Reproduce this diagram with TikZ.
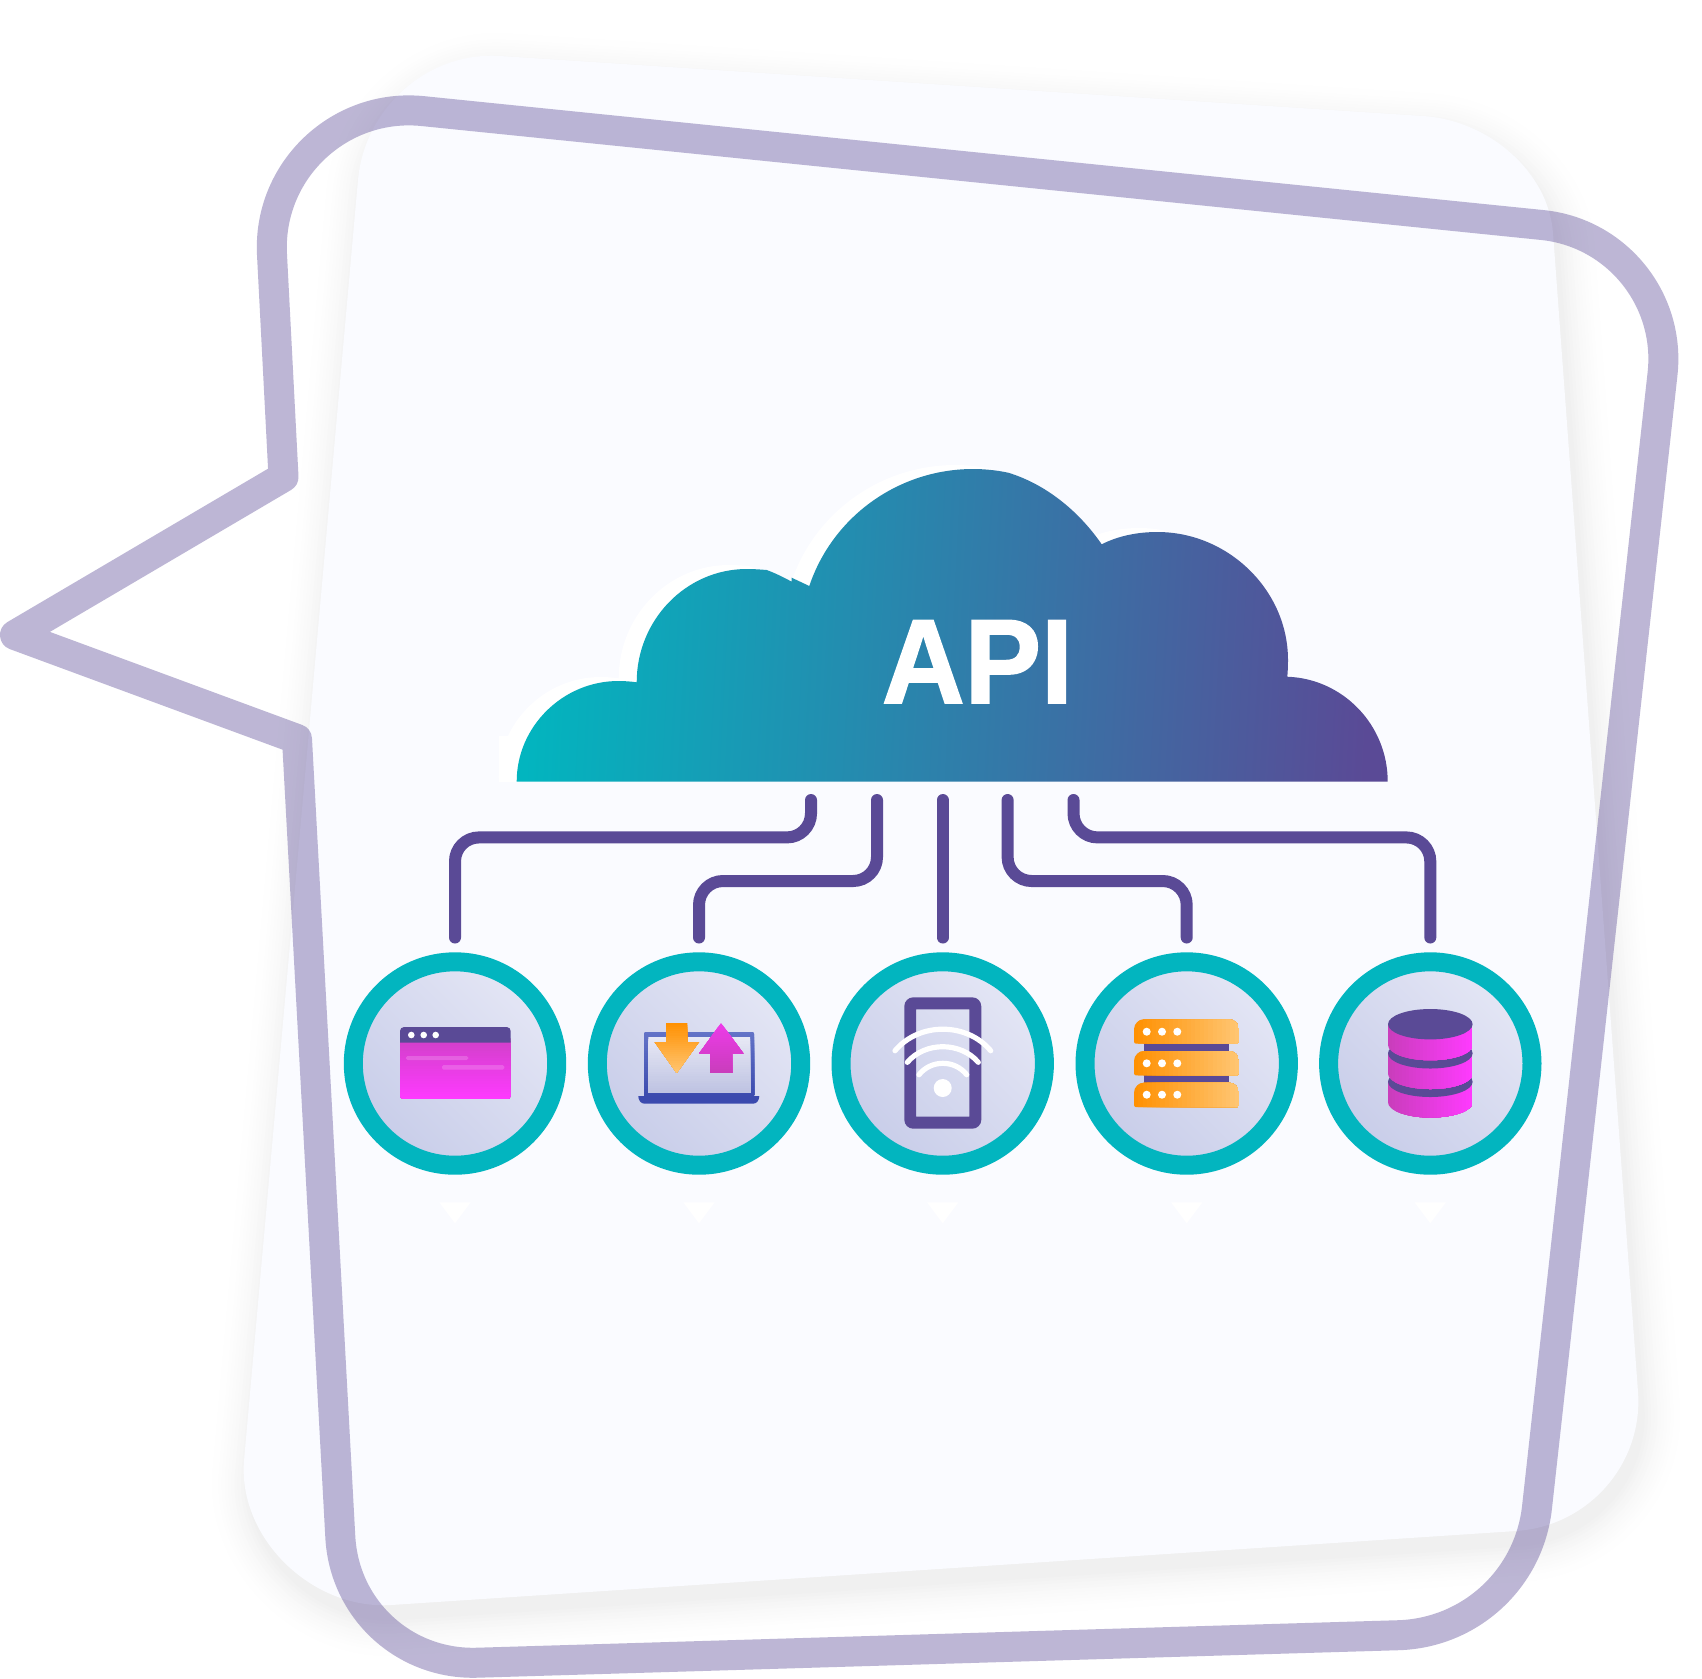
\documentclass[tikz,border=0pt]{standalone}
\usepackage{fontspec}
\usepackage{graphicx}
\setmainfont{Liberation Sans}
\usetikzlibrary{calc}
\definecolor{pur}{HTML}{5A4A96}
\definecolor{teal1}{HTML}{02B5BF}
\definecolor{cardbg}{HTML}{FAFBFF}
\definecolor{org}{HTML}{FF9000}
\definecolor{orgl}{HTML}{FFC673}
\definecolor{mag}{HTML}{C93DBB}
\definecolor{magw}{HTML}{D040C8}
\definecolor{magl}{HTML}{FF3AFF}
\definecolor{magt}{HTML}{EE3BEA}
\definecolor{lap}{HTML}{3B4AAE}
\definecolor{lapt}{HTML}{6474C8}
\definecolor{ringd}{HTML}{C8CDE9}
\definecolor{ringl}{HTML}{E4E6F5}
\definecolor{scrt}{HTML}{E8E9F5}
\definecolor{scrb}{HTML}{BEC3E2}
\newcommand{\cardpath}{(500,56) -- (1423,116) .. controls (1490,120.4) and (1548.6,173) .. (1553,233) -- (1638,1392) .. controls (1643.2,1463.8) and (1588.3,1526.3) .. (1516,1531) -- (391,1605) .. controls (312,1610) and (238,1538) .. (244,1461) -- (358,180) .. controls (364.6,107) and (428.5,51.3) .. (500,56) -- cycle}
\newcommand{\cloudpath}{(516.7,781.5) .. controls (516.7,726.5) and (563,681) .. (618.3,681) .. controls (625,681) and (631,681.5) .. (636.7,682.3) .. controls (636.7,620) and (686,569) .. (746.7,569) .. controls (753,569) and (760,569.4) .. (766.7,570) .. controls (775,573) and (784,577.5) .. (791.7,581.7) -- (791.7,577.7) -- (809.3,586) .. controls (832.8,516) and (899.1,469) .. (973,469) .. controls (985,469) and (997,470.3) .. (1008.3,472.7) .. controls (1045,484) and (1078,510) .. (1101.7,544.3) .. controls (1118,536) and (1137,532) .. (1157.5,532) .. controls (1228,532) and (1288,590) .. (1288,660) .. controls (1288,666) and (1287.8,671) .. (1287.3,676.7) .. controls (1343,678.7) and (1387.7,725) .. (1387.7,781.5) -- cycle}
% gradients painted as overlapping solid strips, clipped to the shape
\newcommand{\hgrad}[5]{\begin{scope}\clip #1;\foreach \k in {0,...,23}{\pgfmathsetmacro{\pp}{#2+(#3-#2)*\k/24}\pgfmathsetmacro{\mm}{100*(1-(\k+.5)/24)}\fill[#4!\mm!#5] (\pp,900) rectangle (#3,1200);}\end{scope}}
\newcommand{\vgrad}[5]{\begin{scope}\clip #1;\foreach \k in {0,...,23}{\pgfmathsetmacro{\pp}{#2+(#3-#2)*\k/24}\pgfmathsetmacro{\mm}{100*(1-(\k+.5)/24)}\fill[#4!\mm!#5] (300,\pp) rectangle (1600,#3);}\end{scope}}
\newcommand{\cylbody}[2]{\hgrad{(1388,#1) -- (1388,#2) .. controls (1388,{#2+8.4}) and (1407,{#2+15.2}) .. (1430.3,{#2+15.2}) .. controls (1453.7,{#2+15.2}) and (1472.7,{#2+8.4}) .. (1472.7,#2) -- (1472.7,#1) -- cycle}{1388}{1472.7}{mag}{magl}}
\newcommand{\cylcap}[1]{\fill[pur] (1430.3,#1) ellipse [x radius=42.3, y radius=15.2];}
\newcommand{\plate}[1]{\hgrad{(1136,{#1+24.4}) .. controls (1135,{#1+24.4}) and (1134,{#1+23.4}) .. (1134,{#1+22.4}) -- (1134,{#1+10}) .. controls (1134,{#1+4}) and (1139,#1) .. (1144,#1) -- (1229,#1) .. controls (1234,#1) and (1239,{#1+4}) .. (1239,{#1+10}) -- (1239,{#1+22.4}) .. controls (1239,{#1+23.4}) and (1238,{#1+24.4}) .. (1237,{#1+24.4}) -- cycle}{1134}{1239}{org}{orgl}}
\tikzset{
  ring/.style={circle,draw=teal1,line width=9.5pt,minimum size=101.7pt,inner sep=0pt,outer sep=0pt,bottom color=ringd,top color=ringl,shading angle=-45},
  wire/.style={draw=pur,line width=6pt,line cap=round,rounded corners=12pt},
  outline/.style={draw=pur,draw opacity=.4,line width=15pt,line join=round},
  wave/.style={draw=white,line width=2.6pt,line cap=round}
}
\begin{document}
\begin{tikzpicture}[x=0.5pt,y=-0.5pt]
\useasboundingbox (0,0) rectangle (1702,1678);
\fill[white] (0,0) rectangle (1702,1678);
% card shadow
\begin{scope}[xshift=2.5pt,yshift=-7pt]
\foreach \i in {1,...,14}{
  \pgfmathsetmacro{\wd}{46-3.2*\i}
  \pgfmathsetmacro{\cc}{6*(\i/14)*(\i/14)}
  \draw[draw=black!\cc,fill=black!\cc,line width=\wd pt,line join=round] \cardpath;
}
\end{scope}
% card
\fill[cardbg] \cardpath;
% cloud
\begin{scope}[xshift=-9pt,yshift=2pt]
\fill[white] \cloudpath;
\fill[white] (516.7,740) rectangle (540,785.5);
\end{scope}
\shade[left color=teal1,right color=pur,shading angle=87] \cloudpath;
\node[text=white,font=\bfseries\fontsize{60}{60}\selectfont\addfontfeature{FakeBold=1.5},inner sep=0pt,anchor=base west] (api) at (881.5,703) {\scalebox{.955}[1]{API}};
% cloud ports and circles
\coordinate (a1) at (811,800); \coordinate (a2) at (877,800); \coordinate (a3) at (942.7,800); \coordinate (a4) at (1007.6,800); \coordinate (a5) at (1073.5,800);
\node[ring] (c1) at (455,1063.5) {};
\node[ring] (c2) at (699,1063.5) {};
\node[ring] (c3) at (942.7,1063.5) {};
\node[ring] (c4) at (1186.7,1063.5) {};
\node[ring] (c5) at (1430.3,1063.5) {};
\coordinate (e1) at (455,937.5); \coordinate (e2) at (699,937.5); \coordinate (e3) at (942.7,937.5); \coordinate (e4) at (1186.7,937.5); \coordinate (e5) at (1430.3,937.5);
% connectors
\draw[wire] (a1) |- (e1 |- 0,837.4) -- (e1);
\draw[wire] (a2) |- (e2 |- 0,881) -- (e2);
\draw[wire] (a3) -- (e3);
\draw[wire] (a4) |- (e4 |- 0,881) -- (e4);
\draw[wire] (a5) |- (e5 |- 0,837.4) -- (e5);
% small white triangles
\foreach \x in {455,699,942.7,1186.7,1430.3}
  \fill[white] ({\x-15.7},1202.3) -- ({\x+15.7},1202.3) -- (\x,1223.3) -- cycle;
% icon 1: window
\vgrad{[rounded corners=2pt] (400,1035) -- (400,1099.3) -- (510.7,1099.3) -- (510.7,1035) -- cycle}{1038}{1099.3}{magw}{magl}
\fill[pur] (400,1042.7) -- (400,1031) .. controls (400,1028.8) and (401.8,1027) .. (404,1027) -- (506.7,1027) .. controls (508.9,1027) and (510.7,1028.8) .. (510.7,1031) -- (510.7,1042.7) -- cycle;
\foreach \x in {411.3,423.7,435.7} \fill[white] (\x,1035) circle [radius=3.3];
\fill[white,opacity=.18,rounded corners=.8pt] (406,1056) rectangle (468.3,1060);
\fill[white,opacity=.18,rounded corners=.8pt] (442,1065) rectangle (504.3,1069.7);
% icon 2: laptop
\vgrad{[rounded corners=1pt] (644,1031.7) rectangle (754,1097)}{1031.7}{1097}{lapt}{lap}
\vgrad{(648.3,1036.7) rectangle (750,1092.7)}{1036.7}{1092.7}{scrt}{scrb}
\fill[lap] (638.3,1096) -- (759.3,1096) .. controls (759.3,1100) and (757,1103.7) .. (753,1103.7) -- (644.6,1103.7) .. controls (640.6,1103.7) and (638.3,1100) .. (638.3,1096) -- cycle;
\vgrad{(666,1023) -- (687.3,1023) -- (687.3,1042) -- (699,1042) -- (676.7,1073) -- (654.7,1042) -- (666,1042) -- cycle}{1023}{1073}{org}{orgl}
\vgrad{(721,1023) -- (743.3,1053.3) -- (732,1053.3) -- (732,1073) -- (710.3,1073) -- (710.3,1053.3) -- (699.3,1053.3) -- cycle}{1023}{1073}{magt}{mag}
% icon 3: phone
\fill[pur,even odd rule] [rounded corners=4.5pt] (904.3,997.3) rectangle (981.3,1128.7) [sharp corners] (916,1009.3) rectangle (969.3,1116.7);
\draw[wave] (895,1050.7) .. controls (919,1022) and (966.7,1022) .. (990.7,1050.7);
\draw[wave] (907.3,1062.3) .. controls (925,1041.5) and (960.5,1041.5) .. (978.3,1062.3);
\draw[wave] (919,1074.7) .. controls (931,1059.5) and (954.7,1059.5) .. (966.7,1074.7);
\fill[white] (942.7,1088) circle [radius=9];
% icon 4: servers
\fill[pur] (1144,1043) rectangle (1229,1052);
\fill[pur] (1144,1075) rectangle (1229,1083);
\plate{1019.3}\plate{1051}\plate{1082.7}
\foreach \y in {1031.7,1063.3,1094.7}\foreach \x in {1146.7,1162,1177.3} \fill[white] (\x,\y) circle [radius=4];
% icon 5: database
\cylbody{1081.8}{1102.3}\cylcap{1081.8}
\cylbody{1053.3}{1073.8}\cylcap{1053.3}
\cylbody{1024.2}{1045}\cylcap{1024.2}
% speech bubble outline
\draw[outline] (422.9,111.1) -- (1542.2,225) .. controls (1617,232.6) and (1670.8,299.7) .. (1662.5,374) -- (1537,1507.3) .. controls (1529.1,1579) and (1469.9,1633.1) .. (1398.2,1635.2) -- (477.2,1662.7) .. controls (404.4,1664.9) and (344.2,1609.6) .. (340.3,1536.8) -- (297,739) -- (15,635) -- (283.5,477) -- (272,254.7) .. controls (267.6,170.7) and (339.3,102.6) .. (422.9,111.1) -- cycle;
\end{tikzpicture}
\end{document}
